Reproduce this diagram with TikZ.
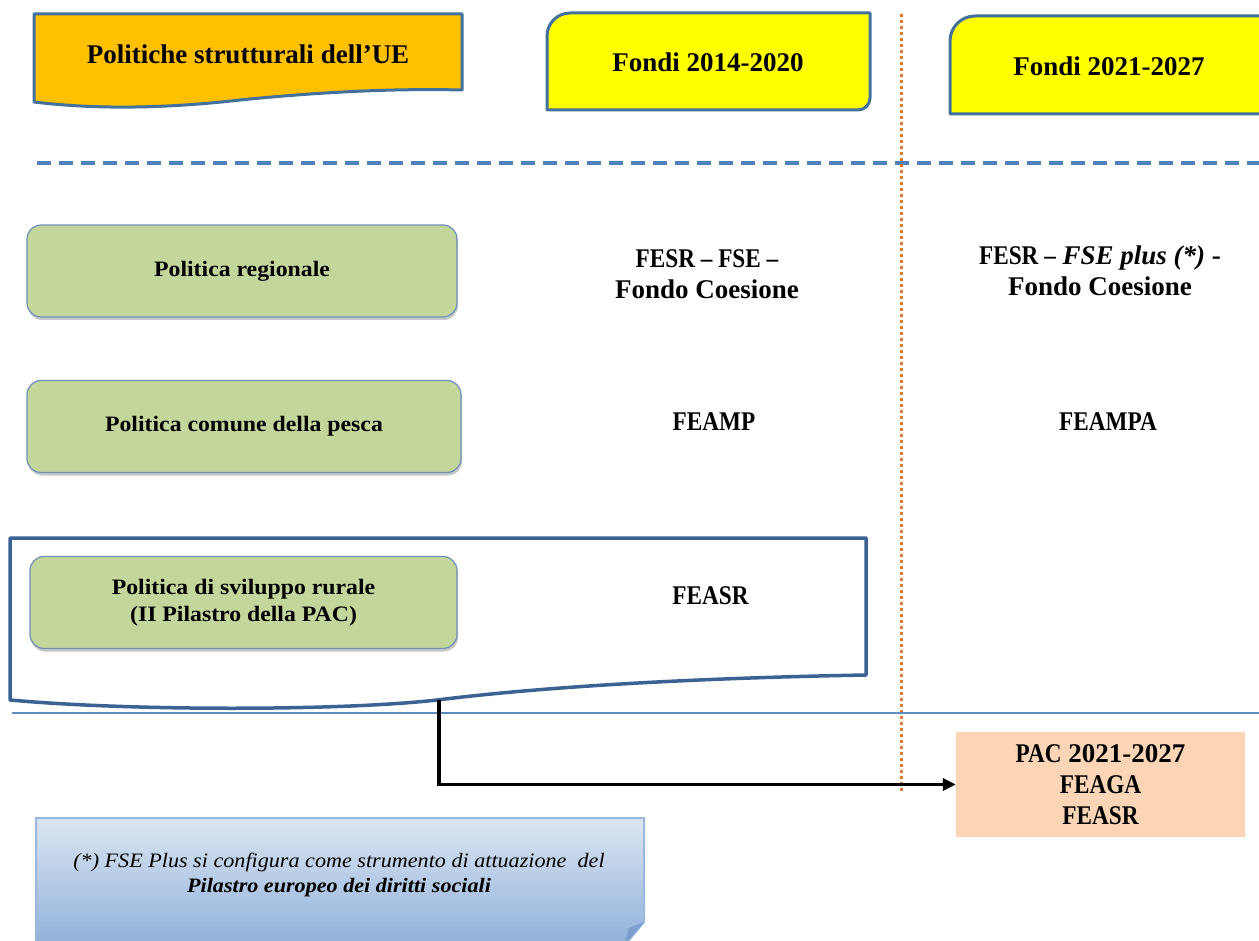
\documentclass[tikz,border=0pt]{standalone}
\usepackage{fontspec}
\setmainfont{Liberation Serif}
\newfontfamily\condfont[FakeStretch=0.86]{Liberation Serif}
\newfontfamily\widefont[FakeStretch=1.08]{Liberation Serif}
\usetikzlibrary{shadows,arrows.meta}

\definecolor{titlefill}{HTML}{FFC000}
\definecolor{boxedge}{HTML}{41719C}
\definecolor{fundyellow}{HTML}{FFFF00}
\definecolor{dashblue}{HTML}{4F81BD}
\definecolor{dotorange}{HTML}{E0782D}
\definecolor{policygreen}{HTML}{C3D69B}
\definecolor{policyedge}{HTML}{6F90B8}
\definecolor{waveedge}{HTML}{3A6394}
\definecolor{thinblue}{HTML}{5F8DC0}
\definecolor{peach}{HTML}{FBD5B5}
\definecolor{notetop}{HTML}{DCE6F2}
\definecolor{notebottom}{HTML}{8FB0DA}
\definecolor{noteedge}{HTML}{9AB8DC}
\definecolor{notefold}{HTML}{7C9FD0}

% capitals of the fund names are set narrower than the lower-case words
\newcommand{\caps}[1]{{\condfont #1}}

\tikzset{
  headbox/.style={draw=boxedge, line width=3pt, line join=round},
  headtext/.style={font=\bfseries\fontsize{27}{31}\selectfont, inner sep=0pt},
  policy/.style={draw=policyedge, line width=1.2pt, fill=policygreen,
    rounded corners=14pt, minimum height=92pt, align=center,
    font=\widefont\bfseries\fontsize{22}{27}\selectfont,
    drop shadow={shadow xshift=1pt, shadow yshift=-3pt, opacity=0.3, fill=black!70}},
  fund/.style={align=center, inner sep=0pt,
    font=\bfseries\fontsize{27}{31}\selectfont},
  link/.style={line width=3.2pt, -{Triangle[length=13pt,width=12pt]}},
}

\begin{document}
\begin{tikzpicture}[x=1pt,y=-1pt]
\useasboundingbox (0,0) rectangle (1259,941);
\clip (0,0) rectangle (1259,941);
\fill[white] (0,0) rectangle (1259,941);

% banner with wavy lower edge
\draw[headbox, fill=titlefill] (34,14) -- (462,14) -- (462,90)
  .. controls (380,88) and (300,94) .. (240,100)
  .. controls (170,108) and (100,110) .. (34,102) -- cycle;
\node[headtext] (titolo) at (248,54) {Politiche strutturali dell’UE};

% period headers
\draw[headbox, fill=fundyellow] (547,110) -- (547,36)
  .. controls (547,23.3) and (557.3,13) .. (570,13) -- (870,13) -- (870,98)
  .. controls (870,104.6) and (864.6,110) .. (858,110) -- cycle;
\node[headtext] (p1420) at (708,62) {Fondi 2014-2020};

\draw[headbox, fill=fundyellow] (950,114) -- (950,41)
  .. controls (950,27.2) and (961.2,16) .. (975,16) -- (1270,16) -- (1270,114) -- cycle;
\node[headtext] (p2127) at (1109,66) {Fondi 2021-2027};

% separators
\draw[dashblue, line width=4pt, dash pattern=on 14pt off 8pt] (37,163) -- (1262,163);
\draw[dotorange, line width=3pt, dash pattern=on 3pt off 3pt] (901,14) -- (901,792);

% frame around rural development
\draw[waveedge, line width=3.5pt, line join=round, fill=white]
  (10,538) -- (866,538) -- (866,675)
  .. controls (700,678) and (550,686) .. (437,700)
  .. controls (340,711) and (130,711) .. (10,700) -- cycle;
\coordinate (rurale-out) at (439,700);

\draw[thinblue, line width=1.5pt] (12,713) -- (1262,713);

% policies
\node[policy, minimum width=430pt] (reg) at (242,271) {Politica regionale};
\node[policy, minimum width=434pt] (pesca) at (244,426.5) {Politica comune della pesca};
\node[policy, minimum width=427pt] (rur) at (243.5,602.5) {Politica di sviluppo rurale\\(II Pilastro della PAC)};

% funds
\node[fund] (f-reg-a) at (707,274) {\caps{FESR – FSE –}\\Fondo Coesione};
\node[fund] (f-reg-b) at (1100,271) {\caps{FESR –} \textit{FSE plus (*)} -\\Fondo Coesione};
\node[fund] (f-pes-a) at (714,422) {\caps{FEAMP}};
\node[fund] (f-pes-b) at (1108,422) {\caps{FEAMPA}};
\node[fund] (f-rur-a) at (710.5,596) {\caps{FEASR}};

% CAP 2021-2027
\node[fill=peach, minimum width=289pt, minimum height=105pt, align=center,
  font=\bfseries\fontsize{27}{31}\selectfont] (pac) at (1100.5,784.5)
  {\caps{PAC} 2021-2027\\\caps{FEAGA}\\\caps{FEASR}};

\draw[link] (rurale-out) |- (pac.west);

% footnote card with folded corner
\shade[top color=notetop, bottom color=notebottom, draw=noteedge, line width=2pt]
  (36,818) -- (644,818) -- (644,922) -- (624,946) -- (36,946) -- cycle;
\fill[notefold] (644,922) -- (624,946) -- (629,928) -- cycle;
\node[align=center, inner sep=0pt, font=\widefont\fontsize{20.5}{25}\selectfont] (nota) at (339,875)
  {\textit{(*) FSE Plus si configura come strumento di attuazione\ \ del}\\
   \textbf{\textit{Pilastro europeo dei diritti sociali}}};
\end{tikzpicture}
\end{document}
